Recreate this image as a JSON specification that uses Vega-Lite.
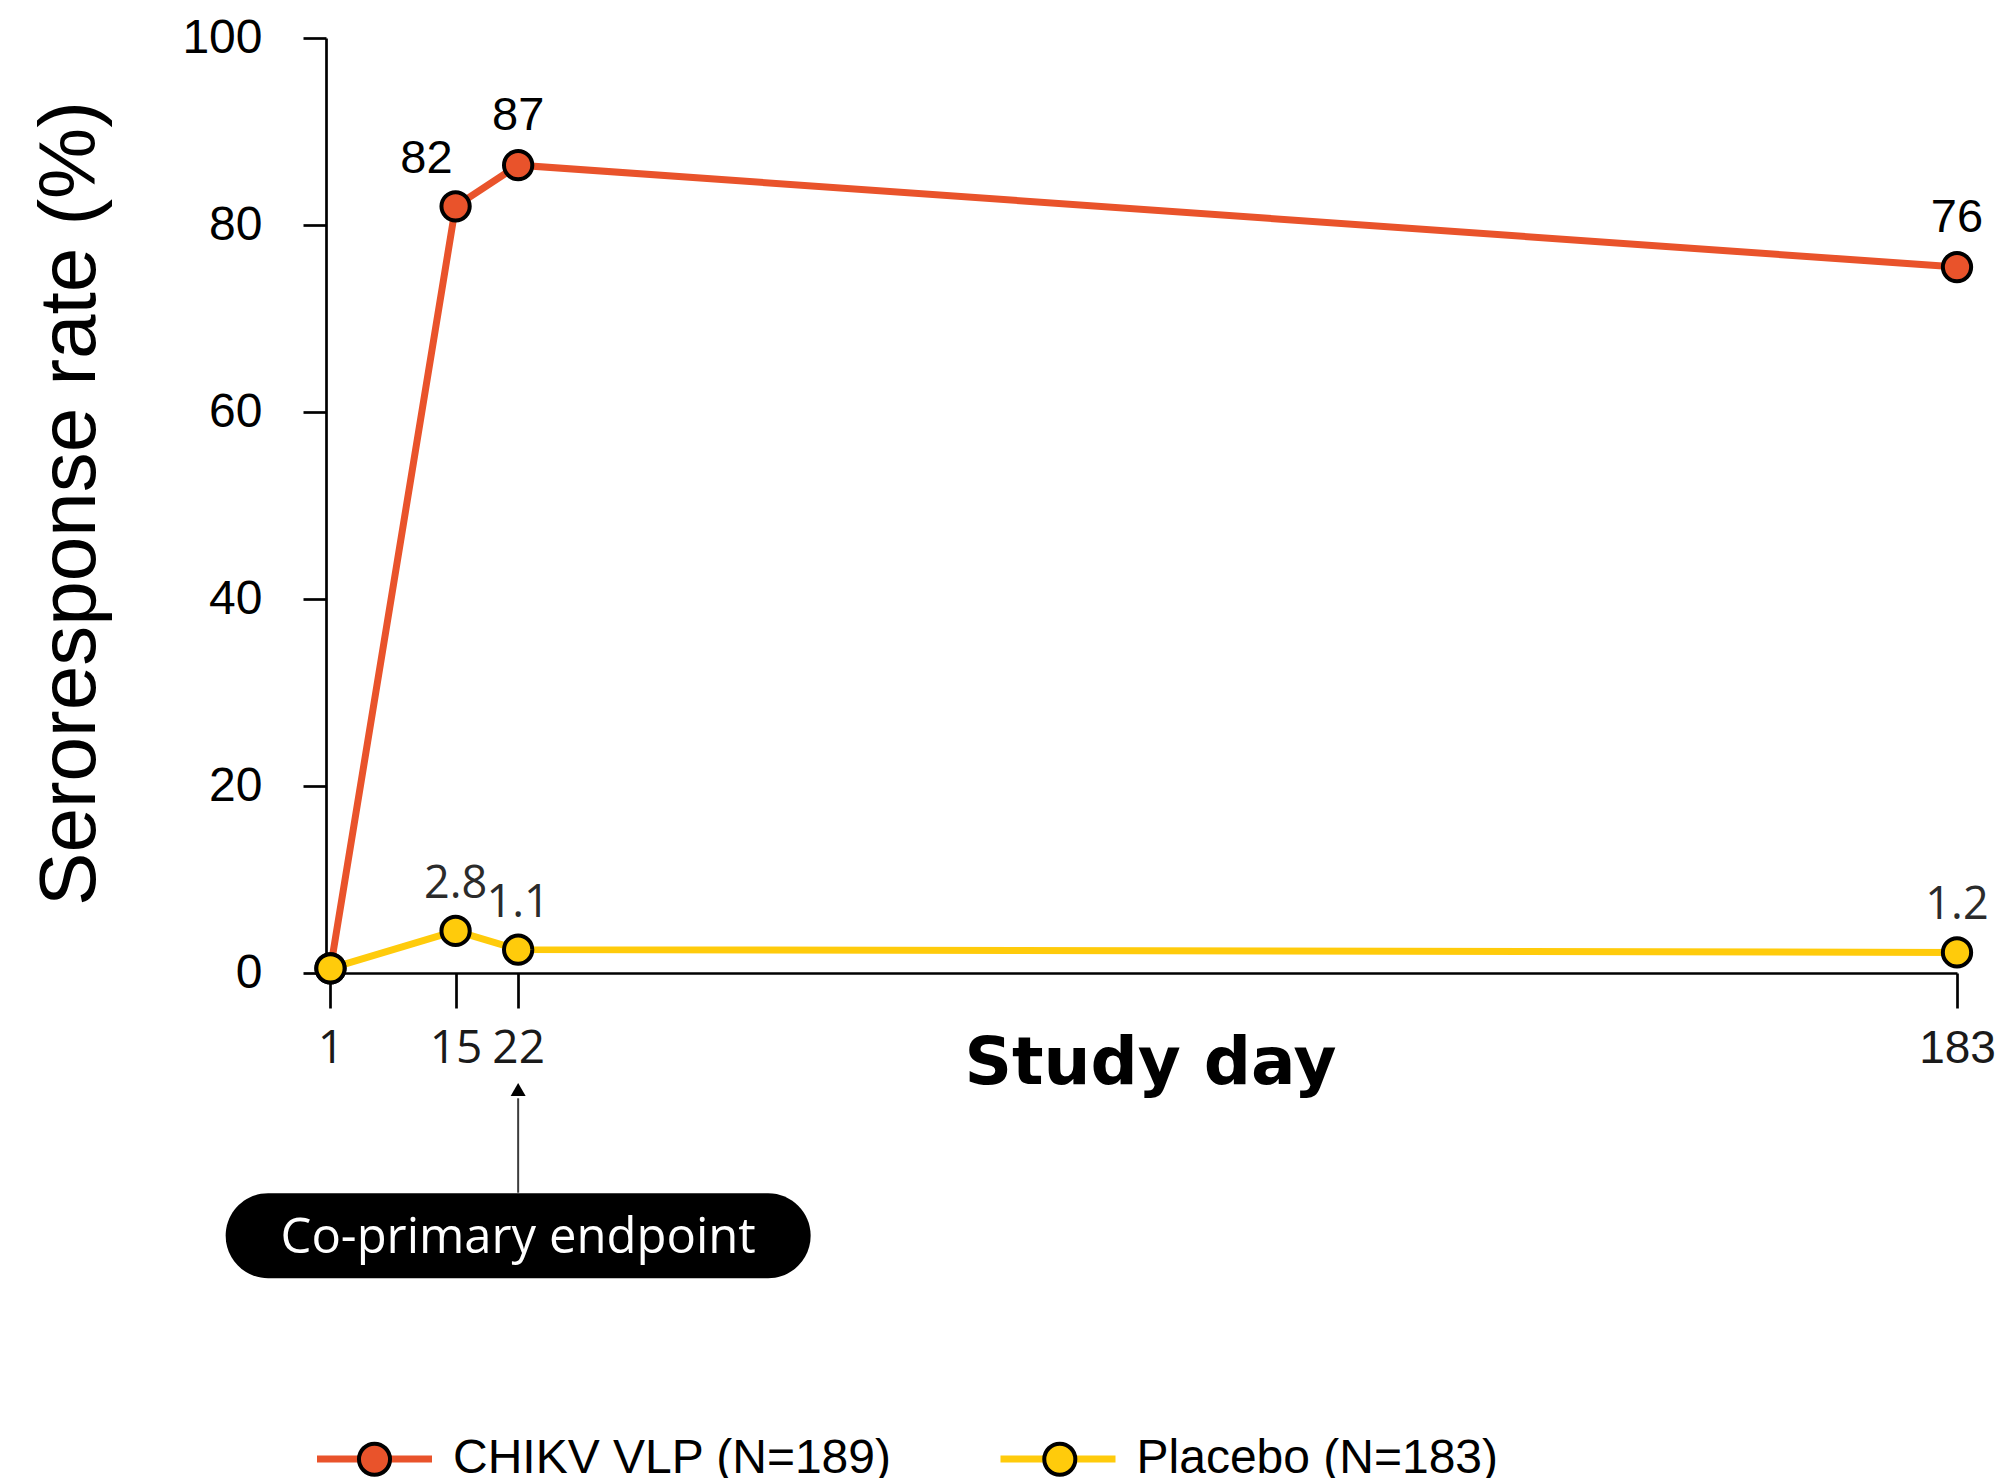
{
  "$schema": "https://vega.github.io/schema/vega-lite/v6.json",
  "width": 1631,
  "height": 935,
  "autosize": {"type": "none"},
  "padding": {"left": 326, "top": 38, "right": 45, "bottom": 505},
  "background": "white",
  "config": {"view": {"stroke": null}, "font": "Liberation Sans"},
  "datasets": {
    "series": [
      {"day": 1, "rate": 0.5, "label": "", "series": "CHIKV VLP (N=189)"},
      {"day": 15, "rate": 82, "label": "82", "series": "CHIKV VLP (N=189)"},
      {"day": 22, "rate": 86.4, "label": "87", "series": "CHIKV VLP (N=189)"},
      {"day": 183, "rate": 75.5, "label": "76", "series": "CHIKV VLP (N=189)"},
      {"day": 1, "rate": 0.5, "label": "", "series": "Placebo (N=183)"},
      {"day": 15, "rate": 4.5, "label": "2.8", "series": "Placebo (N=183)"},
      {"day": 22, "rate": 2.5, "label": "1.1", "series": "Placebo (N=183)"},
      {"day": 183, "rate": 2.2, "label": "1.2", "series": "Placebo (N=183)"}
    ],
    "note": [{"day": 22, "label": "Co-primary endpoint"}]
  },
  "layer": [
    {
      "data": {"name": "series"},
      "mark": {"type": "line", "strokeWidth": 7, "strokeCap": "butt"},
      "encoding": {
        "x": {
          "field": "day", "type": "quantitative",
          "scale": {"domain": [0.5, 183], "nice": false, "zero": false},
          "axis": {
            "title": "Study day", "values": [1, 15, 22, 183], "format": "d",
            "domainColor": "black", "domainWidth": 2.7,
            "tickColor": "black", "tickWidth": 2.7, "tickSize": 35,
            "labelFont": {"condition": {"test": "datum.value == 183", "value": "Liberation Sans"}, "value": "Open Sans"},
            "labelFontSize": 46, "labelColor": "#1a1a1a", "labelBaseline": "alphabetic", "labelPadding": 54,
            "labelFlush": false, "labelOverlap": false, "grid": false,
            "titleFont": "DejaVu Sans", "titleFontWeight": "bold", "titleFontSize": 66, "titleColor": "black",
            "titleX": 824, "titleY": 110, "titleAlign": "center", "titleBaseline": "alphabetic"
          }
        },
        "y": {
          "field": "rate", "type": "quantitative",
          "scale": {"domain": [0, 100], "nice": false},
          "axis": {
            "title": "Seroresponse rate (%)", "values": [0, 20, 40, 60, 80, 100],
            "domainColor": "black", "domainWidth": 2.7,
            "tickColor": "black", "tickWidth": 2.7, "tickSize": 23,
            "labelFont": "Liberation Sans", "labelFontSize": 48, "labelColor": "black", "labelPadding": 41,
            "labelFlush": false, "labelOverlap": false, "grid": false,
            "titleFont": "Liberation Sans", "titleFontSize": 80, "titleFontWeight": "normal", "titleColor": "black",
            "titleAngle": 270, "titleX": -232, "titleY": 465, "titleAlign": "center", "titleBaseline": "alphabetic"
          }
        },
        "stroke": {
          "field": "series", "type": "nominal",
          "scale": {"domain": ["CHIKV VLP (N=189)", "Placebo (N=183)"], "range": ["#E9532B", "#FFCB0B"]},
          "legend": {
            "orient": "none", "legendX": -12.5, "legendY": 1360, "direction": "horizontal", "title": null,
            "symbolType": "stroke", "symbolSize": 13225, "symbolStrokeWidth": 7,
            "labelFont": "Liberation Sans", "labelFontSize": 48, "labelColor": "black", "labelOffset": 17.5,
            "labelLimit": 1000, "columnPadding": 93.5, "padding": 0, "zindex": 1
          }
        }
      }
    },
    {
      "data": {"name": "series"},
      "mark": {"type": "point", "shape": "circle", "filled": true, "size": 800, "stroke": "black", "strokeWidth": 4, "opacity": 1},
      "encoding": {
        "x": {"field": "day", "type": "quantitative", "scale": {"domain": [0.5, 183], "nice": false, "zero": false}},
        "y": {"field": "rate", "type": "quantitative", "scale": {"domain": [0, 100], "nice": false}},
        "fill": {
          "field": "series", "type": "nominal",
          "scale": {"domain": ["CHIKV VLP (N=189)", "Placebo (N=183)", "none"], "range": ["#E9532B", "#FFCB0B", "#ffffff"]},
          "legend": {
            "values": ["CHIKV VLP (N=189)", "Placebo (N=183)"],
            "orient": "none", "legendX": -11, "legendY": 1361.5, "direction": "horizontal", "title": null,
            "symbolType": "M0.27,0A0.27,0.27,0,1,1,-0.27,0A0.27,0.27,0,1,1,0.27,0Z", "symbolSize": 13225,
            "symbolStrokeColor": "black", "symbolStrokeWidth": 4, "symbolOpacity": 1,
            "labelFont": "Liberation Sans", "labelFontSize": 48, "labelColor": "transparent", "labelOffset": 17.5,
            "labelLimit": 1000, "columnPadding": 109.3, "padding": 0, "zindex": 2
          }
        }
      }
    },
    {
      "data": {"name": "series"},
      "transform": [{"filter": "datum.series === 'CHIKV VLP (N=189)' && datum.day !== 15 && datum.label !== ''"}],
      "mark": {"type": "text", "align": "center", "baseline": "alphabetic", "dy": -35, "font": "Liberation Sans", "fontSize": 47, "color": "black"},
      "encoding": {
        "x": {"field": "day", "type": "quantitative", "scale": {"domain": [0.5, 183], "nice": false, "zero": false}},
        "y": {"field": "rate", "type": "quantitative", "scale": {"domain": [0, 100], "nice": false}},
        "text": {"field": "label"}
      }
    },
    {
      "data": {"name": "series"},
      "transform": [{"filter": "datum.series === 'CHIKV VLP (N=189)' && datum.day === 15"}],
      "mark": {"type": "text", "align": "right", "baseline": "alphabetic", "dx": -3, "dy": -33, "font": "Liberation Sans", "fontSize": 47, "color": "black"},
      "encoding": {
        "x": {"field": "day", "type": "quantitative", "scale": {"domain": [0.5, 183], "nice": false, "zero": false}},
        "y": {"field": "rate", "type": "quantitative", "scale": {"domain": [0, 100], "nice": false}},
        "text": {"field": "label"}
      }
    },
    {
      "data": {"name": "series"},
      "transform": [{"filter": "datum.series === 'Placebo (N=183)' && datum.label !== ''"}],
      "mark": {"type": "text", "align": "center", "baseline": "alphabetic", "dy": -33, "font": "Open Sans", "fontSize": 45, "color": "#2b2b2b"},
      "encoding": {
        "x": {"field": "day", "type": "quantitative", "scale": {"domain": [0.5, 183], "nice": false, "zero": false}},
        "y": {"field": "rate", "type": "quantitative", "scale": {"domain": [0, 100], "nice": false}},
        "text": {"field": "label"}
      }
    },
    {
      "data": {"name": "note"},
      "mark": {"type": "rule", "stroke": "#3c3c3c", "strokeWidth": 2},
      "encoding": {
        "x": {"field": "day", "type": "quantitative", "scale": {"domain": [0.5, 183], "nice": false, "zero": false}},
        "y": {"datum": -23.5, "type": "quantitative", "scale": {"domain": [0, 100], "nice": false}},
        "y2": {"datum": -13.4}
      }
    },
    {
      "data": {"name": "note"},
      "mark": {"type": "point", "shape": "triangle-up", "filled": true, "size": 225, "color": "black", "opacity": 1},
      "encoding": {
        "x": {"field": "day", "type": "quantitative", "scale": {"domain": [0.5, 183], "nice": false, "zero": false}},
        "y": {"datum": -12.46, "type": "quantitative", "scale": {"domain": [0, 100], "nice": false}}
      }
    },
    {
      "data": {"name": "note"},
      "mark": {"type": "point", "shape": "M-0.8547,-0.1453H0.8547A0.1453,0.1453,0,0,1,0.8547,0.1453H-0.8547A0.1453,0.1453,0,0,1,-0.8547,-0.1453Z", "filled": true, "size": 342225, "color": "black", "opacity": 1},
      "encoding": {
        "x": {"field": "day", "type": "quantitative", "scale": {"domain": [0.5, 183], "nice": false, "zero": false}},
        "y": {"datum": -28.1, "type": "quantitative", "scale": {"domain": [0, 100], "nice": false}}
      }
    },
    {
      "data": {"name": "note"},
      "mark": {"type": "text", "align": "center", "baseline": "alphabetic", "font": "Open Sans", "fontSize": 49, "color": "white"},
      "encoding": {
        "x": {"field": "day", "type": "quantitative", "scale": {"domain": [0.5, 183], "nice": false, "zero": false}},
        "y": {"datum": -29.95, "type": "quantitative", "scale": {"domain": [0, 100], "nice": false}},
        "text": {"field": "label"}
      }
    }
  ]
}
